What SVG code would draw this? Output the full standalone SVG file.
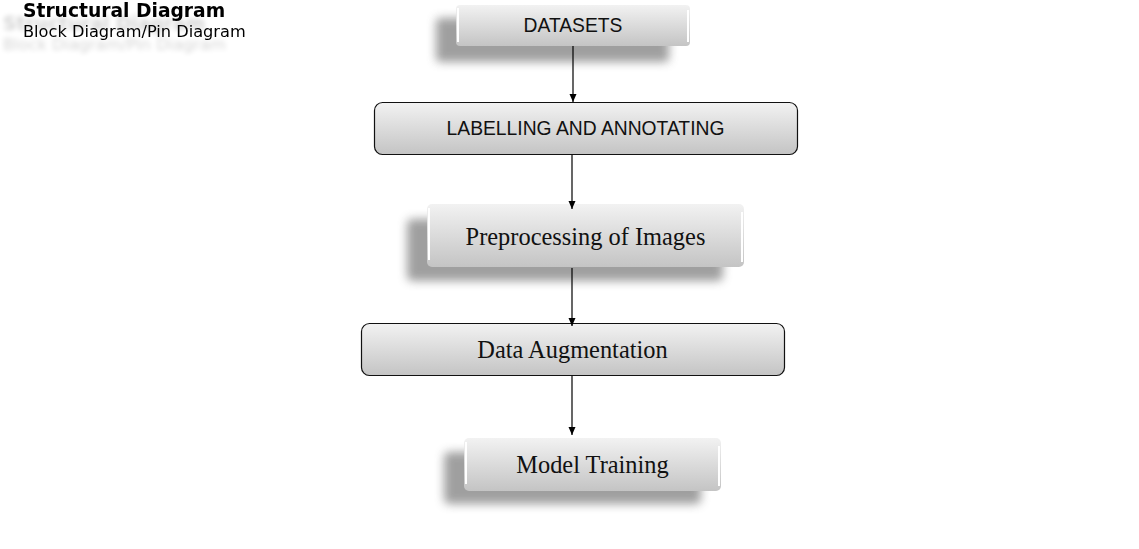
<svg xmlns="http://www.w3.org/2000/svg" width="1139" height="549" viewBox="0 0 1139 549">
<defs>
<linearGradient id="g" x1="0" y1="0" x2="0" y2="1">
<stop offset="0" stop-color="#f2f2f2"/>
<stop offset="1" stop-color="#c4c4c4"/>
</linearGradient>
<filter id="blur" x="-20%" y="-50%" width="140%" height="200%"><feGaussianBlur stdDeviation="5"/></filter>
<filter id="tsh" x="-20%" y="-50%" width="140%" height="250%">
<feGaussianBlur in="SourceAlpha" stdDeviation="2.5" result="b"/>
<feOffset in="b" dx="-20" dy="13" result="o"/>
<feComponentTransfer in="o" result="s"><feFuncA type="linear" slope="0.18"/></feComponentTransfer>
<feMerge><feMergeNode in="s"/><feMergeNode in="SourceGraphic"/></feMerge>
</filter>
<marker id="ah" markerWidth="8" markerHeight="8" refX="8" refY="4" orient="auto" markerUnits="userSpaceOnUse">
<path d="M0,0.5 L8,4 L0,7.5 Z" fill="#000"/>
</marker>
</defs>
<style>
.box{fill:url(#g);}
.bord{fill:url(#g);stroke:#111;stroke-width:1.2;}
.sh{fill:#808080;opacity:0.75;filter:url(#blur);}
.hl{stroke:#fff;stroke-width:2;fill:none;}
.sans{font-family:"Liberation Sans",Arial,sans-serif;font-size:19.3px;fill:#111;text-anchor:middle;}
.serif{font-family:"Liberation Serif","Times New Roman",serif;font-size:24.4px;fill:#111;text-anchor:middle;}
.conn{stroke:#000;stroke-width:1.2;fill:none;marker-end:url(#ah);}
.hdr{font-family:"DejaVu Sans",Verdana,sans-serif;fill:#000;}
</style>
<rect width="1139" height="549" fill="#fff"/>
<g id="header" filter="url(#tsh)">
<text class="hdr" x="23" y="17" font-size="18.7" font-weight="bold">Structural Diagram</text>
<text class="hdr" x="23" y="37" font-size="16.2">Block Diagram/Pin Diagram</text>
</g>
<g id="datasets">
<rect class="sh" x="436" y="18" width="233" height="44" rx="4"/>
<rect class="box" x="456" y="5" width="234" height="41" rx="4"/>
<line class="hl" x1="458" y1="8" x2="458" y2="42"/>
<line class="hl" x1="688" y1="10" x2="688" y2="42"/>
<text class="sans" x="573" y="32">DATASETS</text>
</g>
<g id="labelling">
<rect class="bord" x="374.5" y="102.5" width="423" height="52" rx="8"/>
<text class="sans" x="585.5" y="135">LABELLING AND ANNOTATING</text>
</g>
<g id="preprocessing">
<rect class="sh" x="407" y="219" width="316" height="62" rx="5"/>
<rect class="box" x="427" y="204" width="317" height="63" rx="5"/>
<line class="hl" x1="429" y1="208" x2="429" y2="260"/>
<line class="hl" x1="742" y1="212" x2="742" y2="262"/>
<text class="serif" x="585.5" y="245">Preprocessing of Images</text>
</g>
<g id="augmentation">
<rect class="bord" x="361.5" y="323.5" width="423" height="52" rx="8"/>
<text class="serif" x="572.5" y="358">Data Augmentation</text>
</g>
<g id="training">
<rect class="sh" x="444" y="452" width="257" height="52" rx="5"/>
<rect class="box" x="464" y="438" width="257" height="53" rx="5"/>
<line class="hl" x1="466" y1="442" x2="466" y2="484"/>
<line class="hl" x1="719" y1="446" x2="719" y2="486"/>
<text class="serif" x="592.5" y="473">Model Training</text>
</g>
<g id="connectors">
<line class="conn" x1="573" y1="46" x2="573" y2="102"/>
<line class="conn" x1="572" y1="155" x2="572" y2="209"/>
<line class="conn" x1="572" y1="268" x2="572" y2="326"/>
<line class="conn" x1="572" y1="376" x2="572" y2="435"/>
</g>
</svg>
